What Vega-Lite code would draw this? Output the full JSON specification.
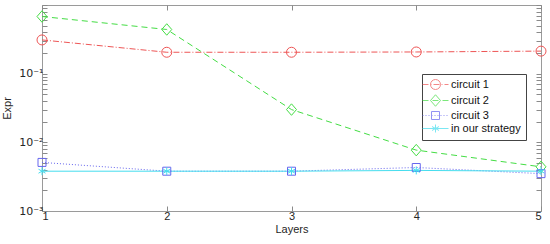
{
  "$schema": "https://vega.github.io/schema/vega-lite/v6.json",
  "width": 499,
  "height": 206,
  "autosize": "none",
  "padding": {"left": 42, "top": 5, "right": 9, "bottom": 33},
  "background": "white",
  "config": {
    "font": "Liberation Sans",
    "view": {"stroke": "#9a9a9a", "strokeWidth": 1},
    "axis": {
      "domain": false,
      "grid": false,
      "tickColor": "#8a8a8a",
      "tickSize": -5,
      "labelFont": "Liberation Sans",
      "labelFontSize": 11,
      "labelColor": "#262626",
      "titleFont": "Liberation Sans",
      "titleFontSize": 11,
      "titleFontWeight": "normal",
      "titleColor": "#262626",
      "labelOverlap": false
    },
    "legend": {
      "orient": "none",
      "legendX": 380,
      "legendY": 69,
      "padding": 5,
      "strokeColor": "#444444",
      "fillColor": "white",
      "symbolSize": 100,
      "symbolStrokeWidth": 1,
      "symbolOffset": 3,
      "labelOffset": 10,
      "rowPadding": 0,
      "labelFont": "Liberation Sans",
      "labelFontSize": 11,
      "labelColor": "#111111"
    }
  },
  "data": {
    "values": [
      {"layer": 1, "expr": 0.31, "series": "circuit 1"},
      {"layer": 2, "expr": 0.205, "series": "circuit 1"},
      {"layer": 3, "expr": 0.205, "series": "circuit 1"},
      {"layer": 4, "expr": 0.207, "series": "circuit 1"},
      {"layer": 5, "expr": 0.213, "series": "circuit 1"},
      {"layer": 1, "expr": 0.68, "series": "circuit 2"},
      {"layer": 2, "expr": 0.44, "series": "circuit 2"},
      {"layer": 3, "expr": 0.030, "series": "circuit 2"},
      {"layer": 4, "expr": 0.0077, "series": "circuit 2"},
      {"layer": 5, "expr": 0.0044, "series": "circuit 2"},
      {"layer": 1, "expr": 0.0051, "series": "circuit 3"},
      {"layer": 2, "expr": 0.0038, "series": "circuit 3"},
      {"layer": 3, "expr": 0.0038, "series": "circuit 3"},
      {"layer": 4, "expr": 0.0043, "series": "circuit 3"},
      {"layer": 5, "expr": 0.0035, "series": "circuit 3"},
      {"layer": 1, "expr": 0.0038, "series": "in our strategy"},
      {"layer": 2, "expr": 0.0038, "series": "in our strategy"},
      {"layer": 3, "expr": 0.0038, "series": "in our strategy"},
      {"layer": 4, "expr": 0.0039, "series": "in our strategy"},
      {"layer": 5, "expr": 0.0038, "series": "in our strategy"}
    ]
  },
  "resolve": {
    "scale": {"shape": "independent"},
    "legend": {"shape": "independent"},
    "axis": {"x": "independent", "y": "independent"}
  },
  "layer": [
    {
      "mark": {"type": "line", "strokeWidth": 1, "clip": true},
      "encoding": {
        "x": {
          "field": "layer", "type": "quantitative",
          "scale": {"domain": [1, 5], "nice": false, "zero": false},
          "axis": {"orient": "bottom", "values": [1, 2, 3, 4, 5], "format": "d", "title": "Layers", "labelPadding": 4, "titlePadding": 2}
        },
        "y": {
          "field": "expr", "type": "quantitative",
          "scale": {"type": "log", "domain": [0.001, 1], "nice": false},
          "axis": {
            "orient": "left",
            "title": "Expr",
            "titlePadding": 6,
            "labelPadding": 4,
            "labelFont": "DejaVu Sans",
            "labelFontSize": 11,
            "values": [0.001, 0.002, 0.003, 0.004, 0.005, 0.006, 0.007, 0.008, 0.009, 0.01, 0.02, 0.03, 0.04, 0.05, 0.06, 0.07, 0.08, 0.09, 0.1, 0.2, 0.3, 0.4, 0.5, 0.6, 0.7, 0.8, 0.9, 1],
            "labelExpr": "datum.value == 0.001 ? '10⁻³' : datum.value == 0.01 ? '10⁻²' : datum.value == 0.1 ? '10⁻¹' : ''",
            "encode": {
              "ticks": {"x2": {"value": {"expr": "abs(log(datum.value)/LN10 - round(log(datum.value)/LN10)) < 0.000001 ? 5 : 3"}}}
            }
          }
        },
        "color": {
          "field": "series", "type": "nominal",
          "scale": {"domain": ["circuit 1", "circuit 2", "circuit 3", "in our strategy"], "range": ["#ee5555", "#44dd44", "#6666ee", "#44ddee"]},
          "legend": null
        },
        "strokeDash": {
          "field": "series", "type": "nominal",
          "scale": {"domain": ["circuit 1", "circuit 2", "circuit 3", "in our strategy"], "range": [[6, 2, 1, 2], [6, 4], [1, 2], [1, 0]]},
          "legend": null
        }
      }
    },
    {
      "mark": {"type": "point", "filled": false, "size": 100, "strokeWidth": 1, "opacity": 1},
      "encoding": {
        "x": {
          "field": "layer", "type": "quantitative",
          "axis": {"orient": "top", "values": [1, 2, 3, 4, 5], "labels": false, "title": null}
        },
        "y": {
          "field": "expr", "type": "quantitative",
          "axis": {
            "orient": "right", "labels": false, "title": null,
            "values": [0.001, 0.002, 0.003, 0.004, 0.005, 0.006, 0.007, 0.008, 0.009, 0.01, 0.02, 0.03, 0.04, 0.05, 0.06, 0.07, 0.08, 0.09, 0.1, 0.2, 0.3, 0.4, 0.5, 0.6, 0.7, 0.8, 0.9, 1],
            "encode": {
              "ticks": {"x2": {"value": {"expr": "abs(log(datum.value)/LN10 - round(log(datum.value)/LN10)) < 0.000001 ? -5 : -3"}}}
            }
          }
        },
        "color": {"field": "series", "type": "nominal", "legend": null},
        "shape": {
          "field": "series", "type": "nominal",
          "scale": {
            "domain": ["circuit 1", "circuit 2", "circuit 3", "in our strategy"],
            "range": [
              "M1,0A1,1 0 1,1 -1,0A1,1 0 1,1 1,0Z",
              "M0,-1.15L1,0L0,1.15L-1,0Z",
              "M-0.8,-0.8H0.8V0.8H-0.8Z",
              "M0,-0.8V0.8M-0.7,-0.4L0.7,0.4M-0.7,0.4L0.7,-0.4"
            ]
          },
          "legend": null
        }
      }
    },
    {
      "transform": [{"filter": "datum.layer > 100"}],
      "mark": {"type": "point", "filled": false, "size": 100, "strokeWidth": 1},
      "encoding": {
        "shape": {
          "field": "series", "type": "nominal",
          "scale": {
            "domain": ["circuit 1", "circuit 2", "circuit 3", "in our strategy"],
            "range": [
              "M1,0A1,1 0 1,1 -1,0A1,1 0 1,1 1,0ZM-2.6,0H-1.4M-1,0H-0.8M-0.4,0H0.8M1.2,0H1.4M1.8,0H2.6",
              "M0,-1.15L1,0L0,1.15L-1,0ZM-2.6,0H-1.4M-0.6,0H0.6M1.4,0H2.6",
              "M-0.8,-0.8H0.8V0.8H-0.8ZM-2.6,0H-2.4M-2,0H-1.8M-1.4,0H-1.2M-0.8,0H-0.6M-0.2,0H0M0.4,0H0.6M1,0H1.2M1.6,0H1.8M2.2,0H2.4",
              "M0,-0.8V0.8M-0.7,-0.4L0.7,0.4M-0.7,0.4L0.7,-0.4M-2.6,0H2.6"
            ]
          },
          "legend": {
            "title": null,
            "orient": "none",
            "legendX": 380,
            "legendY": 69,
            "symbolFillColor": "transparent",
            "symbolStrokeColor": {"expr": "datum.value == 'circuit 1' ? '#ee5555' : datum.value == 'circuit 2' ? '#44dd44' : datum.value == 'circuit 3' ? '#6666ee' : '#44ddee'"}
          }
        }
      }
    }
  ]
}
